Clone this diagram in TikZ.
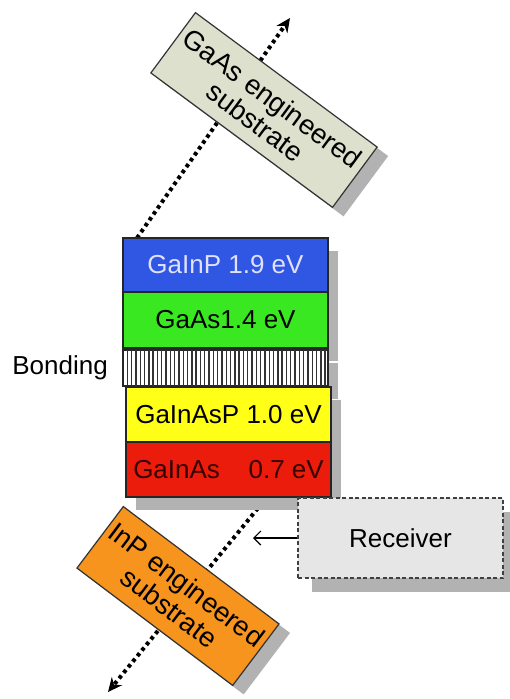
\documentclass[tikz,border=0pt]{standalone}
\usepackage{fontspec}
\setmainfont{Liberation Sans}
\usetikzlibrary{shapes, arrows.meta, positioning, calc, backgrounds, shadows}

\definecolor{layerblue}{RGB}{48,86,228}
\definecolor{layergreen}{RGB}{58,232,34}
\definecolor{layeryellow}{RGB}{255,255,24}
\definecolor{layerred}{RGB}{236,28,12}
\definecolor{subgray}{RGB}{221,224,204}
\definecolor{suborange}{RGB}{246,148,30}
\definecolor{receivergray}{RGB}{230,230,230}

\tikzstyle{layer} = [rectangle, draw=black!85, line width=1.2pt, minimum width=205pt, minimum height=55pt, inner sep=0pt, outer sep=0pt, font=\fontsize{26}{30}\selectfont, drop shadow={shadow xshift=10pt, shadow yshift=-13pt, fill=black!30, opacity=1}]
\tikzstyle{substrate} = [rectangle, draw=black!80, line width=1.2pt, minimum width=226pt, minimum height=75pt, inner sep=1pt, align=center, font=\fontsize{27.5}{29}\selectfont, drop shadow={shadow xshift=11pt, shadow yshift=-9pt, fill=black!30, opacity=1}]
\tikzstyle{receiverbox} = [rectangle, draw=black!75, line width=1.2pt, dash pattern=on 4pt off 2.5pt, fill=receivergray, minimum width=205pt, minimum height=80pt, font=\fontsize{26}{30}\selectfont, drop shadow={shadow xshift=14pt, shadow yshift=-14pt, fill=black!30, opacity=1}]
\tikzstyle{beam} = [line width=4pt, dash pattern=on 3.6pt off 3.6pt, -{Stealth[length=14pt,width=13pt]}]
\tikzstyle{feed} = [line width=1.2pt, -{Straight Barb[length=7pt,width=14pt]}]
\tikzstyle{hatch} = [line width=1.4pt, black!80]

\begin{document}
\begin{tikzpicture}[x=1pt, y=1pt]
    \useasboundingbox (0,0) rectangle (510,-699);

    % Cell stack
    \node (gainp) [layer, fill=layerblue, text=white!88!blue, minimum height=54pt] at (225.5,-265) {GaInP 1.9 eV};
    \node (gaas) [layer, fill=layergreen, below=0pt of gainp, minimum height=56pt] {GaAs1.4 eV};
    \node (bond) [layer, fill=white, below=2pt of gaas, minimum height=36pt] {};
    \foreach \i in {1,...,47}
        \draw [hatch] ($(bond.south west)+(\i*4.3,0)$) -- ($(bond.north west)+(\i*4.3,0)$);
    \node (gainasp) [layer, fill=layeryellow, below=1pt of bond, xshift=3pt] {GaInAsP 1.0 eV};
    \node (gainas) [layer, fill=layerred, text=black!80!red, below=0pt of gainasp] {GaInAs\hspace{1.1em}0.7 eV};
    \node (bondlabel) [left=15pt of bond, inner sep=0pt, font=\fontsize{26}{30}\selectfont] {Bonding};

    % Substrates and receiver
    \node (gaassub) [substrate, fill=subgray, rotate=-36.5] at (264,-110) {GaAs engineered\\substrate};
    \node (inpsub) [substrate, fill=suborange, rotate=-37, minimum width=195pt, minimum height=77pt] at (178,-596) {InP engineered\\substrate};
    \node (receiver) [receiverbox] at (400.5,-538) {Receiver};

    % Beams
    \coordinate (gaasout) at (290,-18);
    \coordinate (inpout) at (108,-692);
    \coordinate (feedend) at (253,-538);
    \begin{scope}[on background layer]
        \draw [beam] ($(gainp.north west)+(14,0)$) -- (gaasout);
        \draw [beam] ($(gainas.south west)+(141,0)$) -- (inpout);
    \end{scope}
    \draw [feed] (receiver.west) -- (feedend);
\end{tikzpicture}
\end{document}
